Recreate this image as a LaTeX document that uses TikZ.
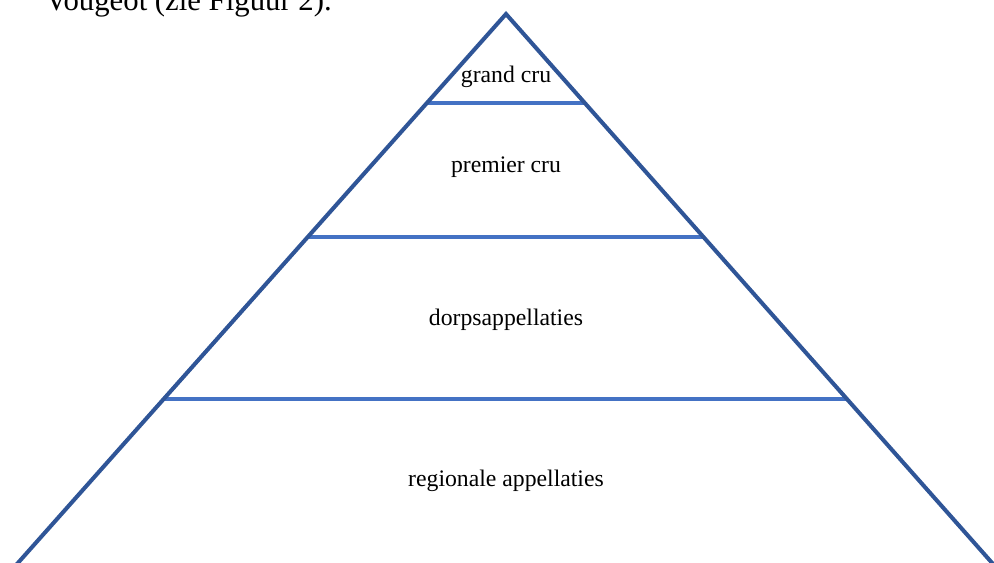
\documentclass[tikz,border=0pt]{standalone}
\usepackage{fontspec}
\setmainfont{Liberation Serif}
\usetikzlibrary{calc}
\definecolor{zijblauw}{RGB}{47,85,151}
\definecolor{laagblauw}{RGB}{68,114,196}
\tikzset{
  zijde/.style={draw=zijblauw, line width=2.3pt},
  laag/.style={draw=laagblauw, line width=2.8pt},
  niveau/.style={font=\fontsize{13.5pt}{15pt}\selectfont, inner sep=0pt}
}

\begin{document}
\begin{tikzpicture}[x=0.02cm,y=-0.02cm]

\useasboundingbox (0,0) rectangle (994,562);
\clip (0,0) rectangle (994,562);

% Tekst erboven
\node[anchor=base west, inner sep=0pt, font=\fontsize{17.5pt}{20pt}\selectfont] (kop) at (45,10) {Vougeot (zie Figuur 2).};

% Piramide
\coordinate (top) at (506,14);
\path (top) -- +(-497,559) coordinate (lo);
\path (top) -- +(495,559) coordinate (ro);

\coordinate (a1) at ($(top)!0.1592!(lo)$);
\coordinate (b1) at ($(top)!0.1592!(ro)$);
\coordinate (a2) at ($(top)!0.3989!(lo)$);
\coordinate (b2) at ($(top)!0.3989!(ro)$);
\coordinate (a3) at ($(top)!0.6887!(lo)$);
\coordinate (b3) at ($(top)!0.6887!(ro)$);

\draw[laag] (a1) -- (b1);
\draw[laag] (a2) -- (b2);
\draw[laag] (a3) -- (b3);

\draw[zijde, line join=miter] (lo) -- (top) -- (ro);

\node[niveau] (grandcru) at (506,77) {grand cru};
\node[niveau] (premiercru) at (506,167) {premier cru};
\node[niveau] (dorp) at (506,320) {dorpsappellaties};
\node[niveau] (regio) at (506,481) {regionale appellaties};

\end{tikzpicture}
\end{document}
